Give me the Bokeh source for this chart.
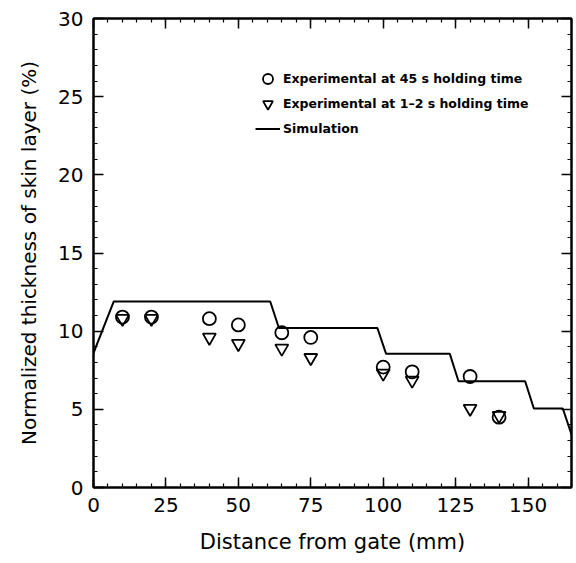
from bokeh.plotting import figure
from bokeh.models import (LinearAxis, Range1d, Legend, LegendItem,
                          SingleIntervalTicker, ColumnDataSource)
from bokeh.embed import file_html
from bokeh.resources import INLINE

# Measured skin-layer thickness along the flow path
distance_mm = [10, 20, 40, 50, 65, 75, 100, 110, 130, 140]
skin_45s = [10.9, 10.9, 10.8, 10.4, 9.9, 9.6, 7.7, 7.4, 7.1, 4.5]
skin_1_2s = [10.8, 10.8, 9.6, 9.2, 8.9, 8.3, 7.3, 6.85, 5.05, 4.6]

# Simulated profile (piecewise, per mould section)
sim_x = [0, 7, 61, 64, 98, 101, 123, 126, 149, 152, 162, 165]
sim_y = [8.6, 11.9, 11.9, 10.2, 10.2, 8.55, 8.55, 6.8, 6.8, 5.05, 5.05, 3.4]

FONT = "DejaVu Sans"

p = figure(width=576, height=563, output_backend="svg", toolbar_location=None,
           x_range=Range1d(0, 165), y_range=Range1d(0, 30),
           min_border_left=93, min_border_right=5, min_border_top=18,
           min_border_bottom=76, background_fill_color="white",
           border_fill_color="white")
p.grid.visible = False
p.outline_line_color = "black"
p.outline_line_width = 2

# Bottom and left axes with labels; inward ticks
p.xaxis.ticker = SingleIntervalTicker(interval=25, num_minor_ticks=5)
p.yaxis.ticker = SingleIntervalTicker(interval=5, num_minor_ticks=5)
p.xaxis.axis_label = "Distance from gate (mm)"
p.yaxis.axis_label = "Normalized thickness of skin layer (%)"

for ax in p.xaxis + p.yaxis:
    ax.axis_line_width = 2
    ax.axis_line_color = "black"
    ax.major_tick_in = 10
    ax.major_tick_out = 0
    ax.minor_tick_in = 4
    ax.minor_tick_out = 0
    ax.major_tick_line_width = 1.5
    ax.minor_tick_line_width = 1.2
    ax.major_label_text_font = FONT
    ax.major_label_text_font_size = "20px"
    ax.major_label_text_color = "black"
    ax.major_label_standoff = 10
    ax.axis_label_text_font = FONT
    ax.axis_label_text_font_size = "21px"
    ax.axis_label_text_font_style = "normal"
    ax.axis_label_text_color = "black"

p.xaxis.axis_label_standoff = 15
p.yaxis.axis_label_text_font_size = "20px"
p.yaxis.axis_label_standoff = 14

# Mirrored ticks on top and right edges
top = LinearAxis(ticker=SingleIntervalTicker(interval=25, num_minor_ticks=5))
right = LinearAxis(ticker=SingleIntervalTicker(interval=5, num_minor_ticks=5))
for ax in (top, right):
    ax.axis_line_width = 2
    ax.major_tick_in = 10
    ax.major_tick_out = 0
    ax.minor_tick_in = 4
    ax.minor_tick_out = 0
    ax.major_tick_line_width = 1.5
    ax.minor_tick_line_width = 1.2
    ax.major_label_text_font_size = "1px"
    ax.major_label_text_color = None
    ax.major_label_standoff = 0
p.add_layout(top, "above")
p.add_layout(right, "right")

src = ColumnDataSource(dict(x=distance_mm, a=skin_45s, b=skin_1_2s))

sim = p.line(sim_x, sim_y, line_color="black", line_width=2)
circ = p.scatter("x", "a", source=src, marker="circle", size=13,
                 fill_color=None, line_color="black", line_width=1.8)
tri = p.scatter("x", "b", source=src, marker="inverted_triangle", size=13,
                fill_color=None, line_color="black", line_width=1.8)

legend = Legend(items=[
    LegendItem(label="Experimental at 45 s holding time", renderers=[circ]),
    LegendItem(label="Experimental at 1\u20132 s holding time", renderers=[tri]),
    LegendItem(label="Simulation", renderers=[sim]),
], location=(162, 346), orientation="vertical",
    border_line_color=None, background_fill_alpha=0,
    label_text_font=FONT, label_text_font_size="12.5px",
    label_text_font_style="bold", label_text_color="black",
    glyph_width=25, glyph_height=25, label_height=25,
    label_standoff=3, spacing=0, padding=0, margin=0)
p.add_layout(legend)

open("out.html", "w").write(file_html(p, INLINE))
